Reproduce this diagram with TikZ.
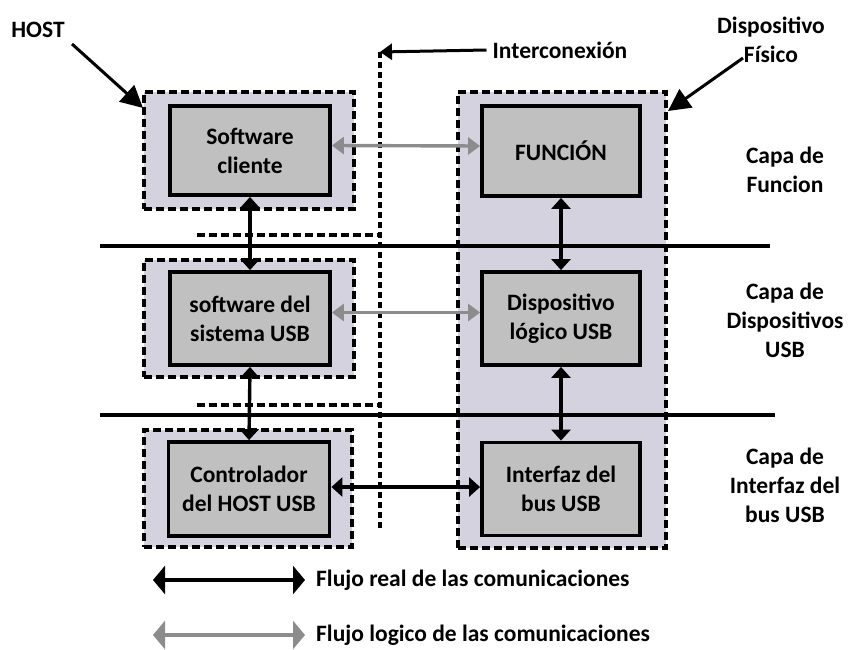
\documentclass[tikz,border=0pt]{standalone}
\usepackage{fontspec}
\setmainfont{Carlito}
\usetikzlibrary{arrows.meta}
\definecolor{lav}{HTML}{D5D2E0}
\definecolor{boxgray}{HTML}{C0C0C0}
\definecolor{flowgray}{HTML}{8C8C8C}
\begin{document}
\begin{tikzpicture}[x=1pt,y=-1pt,
  font=\bfseries\fontsize{23.5}{29}\selectfont,
  group/.style={draw=black, fill=lav, line width=3.3pt, dash pattern=on 8pt off 4pt, rectangle},
  unit/.style={draw=black, fill=boxgray, line width=3.8pt, rectangle, align=center, inner sep=2pt},
  lbl/.style={align=center, inner sep=0pt},
  realflow/.style={line width=3.4pt, {Triangle[width=19pt,length=11pt]}-{Triangle[width=19pt,length=11pt]}},
  logicflow/.style={line width=3.4pt, flowgray, {Triangle[width=17pt,length=12pt]}-{Triangle[width=17pt,length=12pt]}},
  pointer/.style={line width=3pt, -{Triangle[width=22pt,length=22pt]}},
  layerline/.style={line width=3.2pt},
  edgeline/.style={line width=3.3pt, dash pattern=on 8pt off 4pt},
  linkline/.style={line width=3.3pt, dash pattern=on 6pt off 4pt}]
\useasboundingbox (0,0) rectangle (856,650);

% lavender groups
\node[group, minimum width=210pt, minimum height=117pt] (g1) at (249,150.5) {};
\node[group, minimum width=210pt, minimum height=117pt] (g2) at (249,318.5) {};
\node[group, minimum width=208pt, minimum height=117pt] (g3) at (248,488.5) {};
\node[group, minimum width=208pt, minimum height=456pt] (dev) at (562,320) {};

% layer separators
\coordinate (l1a) at (100,246); \coordinate (l1b) at (770,246);
\coordinate (l2a) at (100,415); \coordinate (l2b) at (775,415);
\draw[layerline] (l1a) -- (l1b);
\draw[layerline] (l2a) -- (l2b);

% interconnection boundary
\coordinate (ictop) at (380,52);
\coordinate (icbot) at (380,530);
\coordinate (e1a) at (197,235); \coordinate (e1b) at (378,235);
\coordinate (e2a) at (197,405); \coordinate (e2b) at (378,405);
\draw[linkline] (ictop) -- (icbot);
\draw[edgeline] (e1a) -- (e1b);
\draw[edgeline] (e2a) -- (e2b);

% functional units
\node[unit, minimum width=160pt, minimum height=89pt] (sw) at (250,150.5) {Software\\cliente};
\node[unit, minimum width=160pt, minimum height=93pt] (sys) at (250,318.5) {software del\\sistema USB};
\node[unit, minimum width=161pt, minimum height=94pt] (hc) at (249,489) {Controlador\\del HOST USB};
\node[unit, minimum width=158pt, minimum height=90pt] (fn) at (561,151) {FUNCIÓN};
\node[unit, minimum width=158pt, minimum height=93pt] (ld) at (561,318.5) {Dispositivo\\lógico USB};
\node[unit, minimum width=158pt, minimum height=93pt] (bi) at (561,489) {Interfaz del\\bus USB};

% flows
\draw[realflow] (sw.south) -- (sys.north);
\draw[realflow] (sys.south) -- (hc.north);
\draw[realflow] (fn.south) -- (ld.north);
\draw[realflow] (ld.south) -- (bi.north);
\draw[logicflow] ([yshift=5pt]sw.east) -- ([yshift=5pt]fn.west);
\draw[logicflow] ([yshift=6pt]sys.east) -- ([yshift=6pt]ld.west);
\draw[realflow] ([yshift=2pt]hc.east) -- ([yshift=2pt]bi.west);

% labels and pointers
\node[lbl] (host) at (38,30) {HOST};
\coordinate (hosttip) at (143,108);
\draw[pointer] (72,44) -- (hosttip);
\node[lbl] (icl) at (560,50) {Interconexión};
\draw[line width=3pt, -{Triangle[width=16pt,length=12pt]}] (icl.west) ++(-6,0) -- (ictop);
\node[lbl] (phys) at (771,40) {Dispositivo\\Físico};
\coordinate (devtip) at (668,111);
\draw[pointer] (743,58) -- (devtip);

% layer names
\node[lbl] (lf) at (785,170) {Capa de\\Funcion};
\node[lbl] (ldv) at (785,320) {Capa de\\Dispositivos\\USB};
\node[lbl] (lbi) at (785,485) {Capa de\\Interfaz del\\bus USB};

% legend
\coordinate (k1a) at (153,580); \coordinate (k1b) at (305,580);
\coordinate (k2a) at (153,635); \coordinate (k2b) at (305,635);
\draw[line width=4.8pt, {Triangle[width=28pt,length=12pt]}-{Triangle[width=28pt,length=12pt]}] (k1a) -- (k1b);
\draw[line width=4.8pt, flowgray, {Triangle[width=28pt,length=12pt]}-{Triangle[width=28pt,length=12pt]}] (k2a) -- (k2b);
\node[lbl, anchor=west] (kt1) at (316,580) {Flujo real de las comunicaciones};
\node[lbl, anchor=west] (kt2) at (316,635) {Flujo logico de las comunicaciones};
\end{tikzpicture}
\end{document}
